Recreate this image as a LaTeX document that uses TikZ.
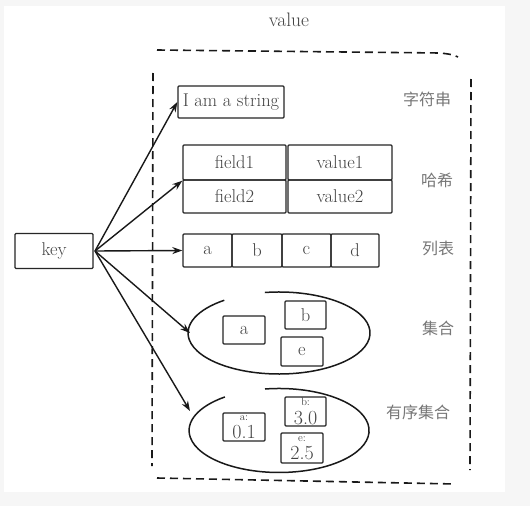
\documentclass[tikz,border=0pt]{standalone}
\usepackage{fontspec}
\newfontfamily\cjk{Noto Sans CJK SC}
\usetikzlibrary{arrows.meta}
\definecolor{txt}{HTML}{444444}
\definecolor{cjkc}{HTML}{777777}
\definecolor{bgout}{HTML}{F6F6F6}
\begin{document}
\begin{tikzpicture}[x=1pt,y=-1pt,
  box/.style={draw=black!85, line width=1.4pt, rounded corners=1pt, inner sep=0pt, text=txt, font=\fontsize{18.5}{18.5}\selectfont},
  lbl/.style={text=cjkc, font=\cjk\fontsize{16}{16}\selectfont},
  conn/.style={draw=black!90, line width=1.4pt, -{Stealth[length=10pt,width=7pt]}},
  frame/.style={draw=black!90, line width=1.6pt, dash pattern=on 8pt off 5pt},
  blob/.style={draw=black!90, line width=1.5pt}]
\useasboundingbox (0,0) rectangle (530,506);
\fill[bgout] (0,0) rectangle (530,506);
\fill[white] (4,6) rectangle (505,492);

\node[text=txt, font=\fontsize{19.5}{19.5}\selectfont] (vtitle) at (289,20) {value};

% dashed frame
\draw[frame] (157,50) -- (440,53) .. controls (450,54) and (454,55) .. (458,57);
\draw[frame] (153,73) -- (152,466);
\draw[frame] (471,79) -- (470,470);
\draw[frame] (157,478) -- (455,484);

% key
\node[box, minimum width=78pt, minimum height=35pt] (key) at (54,251) {key};

% string
\node[box, minimum width=106pt, minimum height=32pt] (str) at (231,102) {I am a string};
\node[lbl] (l1) at (427,99) {字符串};

% hash
\node[box, minimum width=103pt, minimum height=35pt] (f1) at (234.5,162.5) {field1};
\node[box, minimum width=104pt, minimum height=35pt] (v1) at (340,162.5) {value1};
\node[box, minimum width=103pt, minimum height=33pt] (f2) at (234.5,196.5) {field2};
\node[box, minimum width=104pt, minimum height=33pt] (v2) at (340,196.5) {value2};
\node[lbl] (l2) at (437,180) {哈希};

% list
\node[box, minimum width=49pt, minimum height=33pt] (la) at (207.5,250.5) {a};
\node[box, minimum width=50pt, minimum height=33pt] (lb) at (257,250.5) {b};
\node[box, minimum width=49pt, minimum height=33pt] (lc) at (306.5,250.5) {c};
\node[box, minimum width=48pt, minimum height=33pt] (ld) at (355,250.5) {d};
\node[lbl] (l3) at (438,248) {列表};

% set
\draw[blob] (264.8,292.5) arc[start angle=261, end angle=593, x radius=91, y radius=41];
\node[box, minimum width=42pt, minimum height=28pt] (sa) at (244,330) {a};
\node[box, minimum width=41pt, minimum height=28pt] (sb) at (305.5,315) {b};
\node[box, minimum width=42pt, minimum height=29pt] (se) at (302,351.5) {e};
\node[lbl] (l4) at (438,328) {集合};
\coordinate (setin) at (190,333);

% sorted set
\draw[blob] (265,389) arc[start angle=261, end angle=593, x radius=90, y radius=42];
\node[box, minimum width=42pt, minimum height=28pt, align=center] (za) at (244,427) {{\fontsize{11}{11}\selectfont a:}\\{\fontsize{20}{14}\selectfont 0.1}};
\node[box, minimum width=41pt, minimum height=29pt, align=center] (zb) at (305.5,411.5) {{\fontsize{11}{11}\selectfont b:}\\{\fontsize{20}{14}\selectfont 3.0}};
\node[box, minimum width=42pt, minimum height=30pt, align=center] (ze) at (302,448) {{\fontsize{11}{11}\selectfont e:}\\{\fontsize{20}{14}\selectfont 2.5}};
\node[lbl] (l5) at (418,412) {有序集合};
\coordinate (zsetin) at (190,411);

% connectors
\coordinate (kout) at (95,251);
\draw[conn] (kout) -- (str.west);
\draw[conn] (kout) -- (f1.south west);
\draw[conn] (kout) -- (la.west);
\draw[conn] (kout) -- (setin);
\draw[conn] (kout) -- (zsetin);
\end{tikzpicture}
\end{document}
